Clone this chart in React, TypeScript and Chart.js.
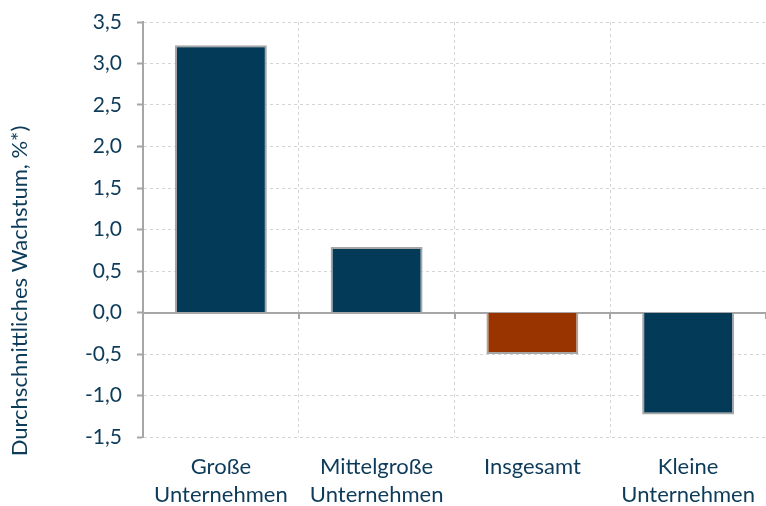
import React, { useEffect, useRef } from "react";
import { Chart, registerables } from "chart.js";

Chart.register(...registerables);

const categories: string[][] = [
  ["Große", "Unternehmen"],
  ["Mittelgroße", "Unternehmen"],
  ["Insgesamt"],
  ["Kleine", "Unternehmen"],
];
const values: number[] = [3.22, 0.79, -0.5, -1.23];
const barColors: string[] = ["#033a57", "#033a57", "#993300", "#033a57"];
const yTitle = "Durchschnittliches Wachstum, %*)";
const yMin = -1.5;
const yMax = 3.5;
const yStep = 0.5;

const TEXT = "#0d3b5a";
const AXIS = "#a6a6a6";
const GRID = "#d4d4d4";
const FONT = "Lato, 'Open Sans', sans-serif";

const titlePlugin = {
  id: "yTitlePlugin",
  afterDraw(chart: any) {
    const ctx = chart.ctx;
    ctx.save();
    ctx.translate(20, 291);
    ctx.rotate(-Math.PI / 2);
    ctx.fillStyle = TEXT;
    ctx.font = `22px ${FONT}`;
    ctx.textAlign = "center";
    ctx.textBaseline = "middle";
    ctx.fillText(yTitle, 0, 0);
    ctx.restore();
  },
};

export default function App() {
  const ref = useRef<HTMLCanvasElement | null>(null);
  useEffect(() => {
    if (!ref.current) return;
    const chart = new Chart(ref.current, {
      type: "bar",
      data: {
        labels: categories,
        datasets: [
          {
            data: values,
            backgroundColor: barColors,
            borderColor: AXIS,
            borderWidth: 2,
            categoryPercentage: 1,
            barPercentage: 0.59,
            xAxisID: "x",
          },
        ],
      },
      plugins: [titlePlugin],
      options: {
        animation: false,
        responsive: true,
        maintainAspectRatio: false,
        layout: { padding: { top: 22, left: 0, right: 0, bottom: 0 } },
        plugins: { legend: { display: false }, tooltip: { enabled: false } },
        scales: {
          x: {
            type: "category",
            offset: true,
            grid: {
              offset: true,
              color: GRID,
              lineWidth: 1,
              drawTicks: false,
            },
            border: { display: false, dash: [3, 3] },
            ticks: {
              color: TEXT,
              font: { family: FONT, size: 22, lineHeight: 1.27 },
              padding: 16,
              maxRotation: 0,
              autoSkip: false,
            },
            afterFit: (s: any) => {
              s.height = 69;
              s.paddingLeft = 0;
              s.paddingRight = 0;
            },
          },
          x2: {
            type: "category",
            labels: categories.map((c) => c.join(" ")),
            position: { y: 0 } as any,
            offset: true,
            grid: {
              offset: true,
              drawOnChartArea: false,
              drawTicks: true,
              tickLength: 5,
              color: AXIS,
              lineWidth: 2,
            },
            border: { display: true, color: AXIS, width: 2 },
            ticks: { display: false },
            afterFit: (s: any) => {
              s.paddingLeft = 0;
              s.paddingRight = 0;
            },
          },
          y: {
            min: yMin,
            max: yMax,
            ticks: {
              stepSize: yStep,
              color: TEXT,
              font: { family: FONT, size: 21 },
              padding: 15,
              callback: (v: any) => Number(v).toFixed(1).replace(".", ","),
            },
            grid: {
              color: GRID,
              lineWidth: 1,
              tickLength: 6,
              tickColor: AXIS,
              tickWidth: 2,
            },
            border: {
              display: true,
              color: AXIS,
              width: 2,
              dash: [3, 3],
            },
            afterFit: (s: any) => {
              s.width = 143;
              s.paddingTop = 0;
              s.paddingBottom = 0;
            },
          },
        },
      } as any,
    });
    return () => chart.destroy();
  }, []);
  return (
    <div style={{ position: "absolute", left: 0, top: 0, width: 766, height: 506 }}>
      <canvas ref={ref} />
    </div>
  );
}
